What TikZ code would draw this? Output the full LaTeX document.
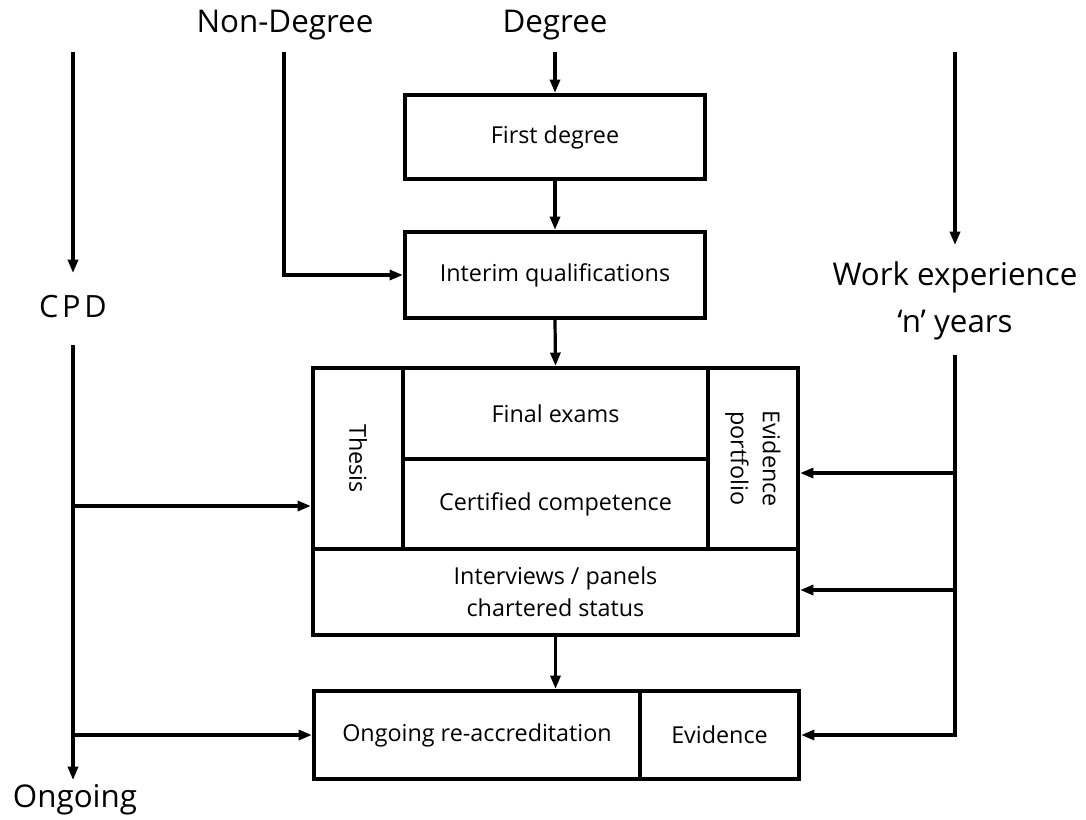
\documentclass[tikz,border=0pt]{standalone}
\usepackage{fontspec}
\setmainfont{Open Sans}
\usetikzlibrary{arrows.meta,fit}
\begin{document}
\begin{tikzpicture}[x=0.75pt,y=-0.75pt,
  cell/.style={draw, line width=3.2pt, inner sep=0pt},
  boxtext/.style={font=\fontsize{17.5}{24}\selectfont, align=center, inner sep=0pt},
  flowlabel/.style={font=\fontsize{23.5}{35}\selectfont, align=center, inner sep=0pt},
  flow/.style={line width=2.4pt, -{Triangle[length=10pt,width=7.5pt]}},
  plain/.style={line width=2.4pt}]
\path[use as bounding box] (0,0) rectangle (1086,819);

% route labels
\node[flowlabel] (nondeg) at (285,25) {Non-Degree};
\node[flowlabel] (deg) at (555,25) {Degree};
\node[flowlabel, font=\fontsize{23}{28}\selectfont\addfontfeatures{LetterSpace=12}] (cpd) at (73,307) {CPD};
\node[flowlabel] (work) at (955,301) {Work experience\\`n' years};
\node[flowlabel] (ongoing) at (75,800) {Ongoing};

% boxes of the main column
\node[cell, fit={(405,95)(705,179)}] (first) {};
\node[boxtext] (firstT) at (first.center) {First degree};
\node[cell, fit={(405,232)(705,318)}] (interim) {};
\node[boxtext] (interimT) at (interim.center) {Interim qualifications};

% qualification block
\node[cell, fit={(313,368)(798,635)}] (qual) {};
\node[cell, fit={(313,368)(403,549)}] (thesis) {};
\node[cell, fit={(403,368)(708,459)}] (final) {};
\node[cell, fit={(403,459)(708,549)}] (cert) {};
\node[cell, fit={(708,368)(798,549)}] (evport) {};
\node[cell, fit={(313,549)(798,635)}] (panel) {};
\node[boxtext, rotate=-90] (thesisT) at (thesis.center) {Thesis};
\node[boxtext] (finalT) at (final.center) {Final exams};
\node[boxtext] (certT) at (cert.center) {Certified competence};
\node[boxtext, rotate=-90] (evportT) at (evport.center) {Evidence\\portfolio};
\node[boxtext] (panelT) at (panel.center) {Interviews / panels\\chartered status};

% re-accreditation block
\node[cell, fit={(314,691)(640,779)}] (reacc) {};
\node[cell, fit={(640,691)(799,779)}] (evid) {};
\node[boxtext] (reaccT) at (reacc.center) {Ongoing re-accreditation};
\node[boxtext] (evidT) at (evid.center) {Evidence};

% line ends and junctions
\coordinate (cpdtop) at (73,52);
\coordinate (cpdtip) at (73,273);
\coordinate (cpdbot) at (73,345);
\coordinate (cpdA) at (73,506);
\coordinate (cpdB) at (73,735);
\coordinate (ongtip) at (73,780);
\coordinate (ndtop) at (284,52);
\coordinate (degtop) at (555,52);
\coordinate (worktop) at (955,52);
\coordinate (worktip) at (955,245);
\coordinate (workbot) at (955,355);
\coordinate (workA) at (955,473);
\coordinate (workB) at (955,590);

% connectors
\draw[flow] (cpdtop) -- (cpdtip);
\draw[flow] (cpdbot) -- (ongtip);
\draw[flow] (cpdA) -- (cpdA -| qual.west);
\draw[flow] (cpdB) -- (reacc.west);
\draw[flow] (ndtop) |- (interim.west);
\draw[flow] (degtop) -- (first.north);
\draw[flow] (first.south) -- (interim.north);
\draw[flow] (interim.south) -- (qual.north);
\draw[flow] (qual.south) -- (reacc.north -| qual.south);
\draw[flow] (worktop) -- (worktip);
\draw[flow] (workbot) |- (evid.east);
\draw[flow] (workA) -- (workA -| qual.east);
\draw[flow] (workB) -- (workB -| qual.east);
\end{tikzpicture}
\end{document}
